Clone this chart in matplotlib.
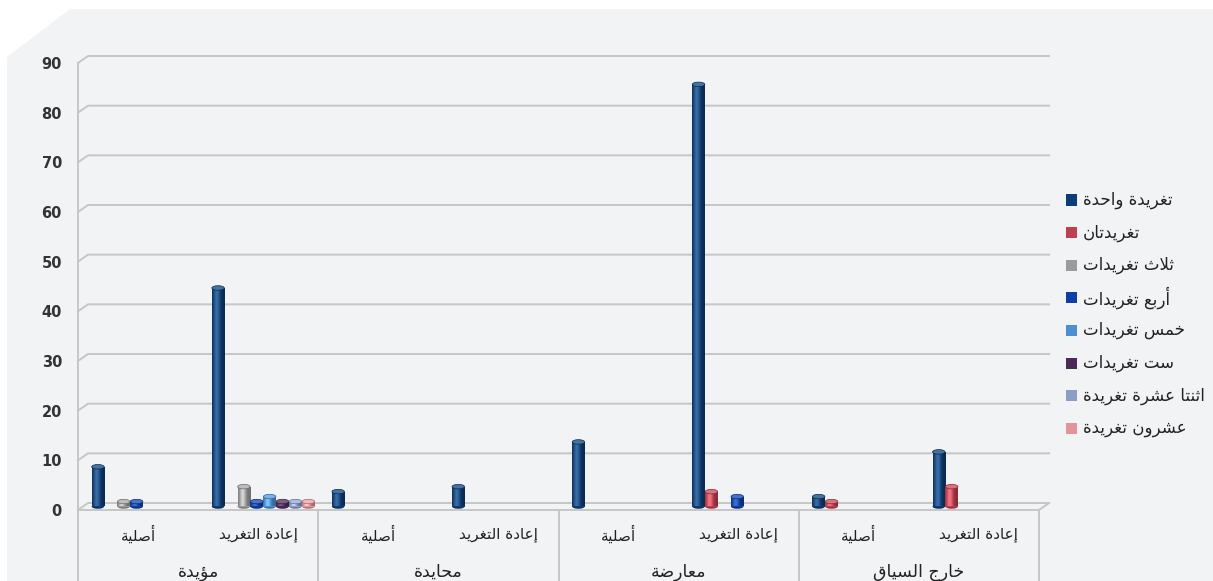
import numpy as np
import matplotlib
matplotlib.use("Agg")
import matplotlib.pyplot as plt
from matplotlib.patches import Ellipse, Rectangle, Polygon
from matplotlib.lines import Line2D
import matplotlib.transforms as mtransforms

plt.rcParams['font.family'] = ['DejaVu Sans']

# ---------------- data ----------------
groups = ["مؤيدة", "محايدة", "معارضة", "خارج السياق"]
subcategories = ["أصلية", "إعادة التغريد"]
series_names = ["تغريدة واحدة", "تغريدتان", "ثلاث تغريدات", "أربع تغريدات",
                "خمس تغريدات", "ست تغريدات", "اثنتا عشرة تغريدة", "عشرون تغريدة"]
series_colors = ["#0c3d74", "#bf3f4f", "#9b9b9b", "#0d3fa6",
                 "#4a8fd2", "#4b2a57", "#8c9dc6", "#e3949b"]
# order: مؤيدة(أصلية, إعادة), محايدة(...), معارضة(...), خارج السياق(...)
s_one    = [8, 44, 3, 4, 13, 85, 2, 11]
s_two    = [None, None, None, None, None, 3, 1, 4]
s_three  = [1, 4, None, None, None, None, None, None]
s_four   = [1, 1, None, None, None, 2, None, None]
s_five   = [None, 2, None, None, None, None, None, None]
s_six    = [None, 1, None, None, None, None, None, None]
s_twelve = [None, 1, None, None, None, None, None, None]
s_twenty = [None, 1, None, None, None, None, None, None]
series_values = [s_one, s_two, s_three, s_four, s_five, s_six, s_twelve, s_twenty]
y_ticks = list(range(0, 100, 10))

# ---------------- Arabic shaping (presentation forms) ----------------
BASE = {
    '\u0627': (0xFE8D, 2), '\u0623': (0xFE83, 2), '\u0625': (0xFE87, 2), '\u0622': (0xFE81, 2),
    '\u0624': (0xFE85, 2), '\u0628': (0xFE8F, 4), '\u0629': (0xFE93, 2), '\u062A': (0xFE95, 4),
    '\u062B': (0xFE99, 4), '\u062C': (0xFE9D, 4), '\u062D': (0xFEA1, 4), '\u062E': (0xFEA5, 4),
    '\u062F': (0xFEA9, 2), '\u0630': (0xFEAB, 2), '\u0631': (0xFEAD, 2), '\u0632': (0xFEAF, 2),
    '\u0633': (0xFEB1, 4), '\u0634': (0xFEB5, 4), '\u0635': (0xFEB9, 4), '\u0636': (0xFEBD, 4),
    '\u0637': (0xFEC1, 4), '\u0638': (0xFEC5, 4), '\u0639': (0xFEC9, 4), '\u063A': (0xFECD, 4),
    '\u0641': (0xFED1, 4), '\u0642': (0xFED5, 4), '\u0643': (0xFED9, 4), '\u0644': (0xFEDD, 4),
    '\u0645': (0xFEE1, 4), '\u0646': (0xFEE5, 4), '\u0647': (0xFEE9, 4), '\u0648': (0xFEED, 2),
    '\u0649': (0xFEEF, 2), '\u064A': (0xFEF1, 4),
}
LAM_ALEF = {'\u0627': 0xFEFB, '\u0623': 0xFEF7, '\u0625': 0xFEF9, '\u0622': 0xFEF5}


def shape(text):
    chars = list(text)
    units = []
    i = 0
    while i < len(chars):
        c = chars[i]
        if c == '\u0644' and i + 1 < len(chars) and chars[i + 1] in LAM_ALEF:
            units.append(('LA', LAM_ALEF[chars[i + 1]]))
            i += 2
        else:
            units.append(('C', c))
            i += 1

    def joins_next(u):
        return u[0] == 'C' and u[1] in BASE and BASE[u[1]][1] == 4

    def is_ar(u):
        return u[0] == 'LA' or u[1] in BASE

    out = []
    for k, u in enumerate(units):
        pj = k > 0 and joins_next(units[k - 1]) and is_ar(u)
        nj = k + 1 < len(units) and joins_next(u) and is_ar(units[k + 1])
        if u[0] == 'LA':
            out.append(chr(u[1] + (1 if pj else 0)))
        elif u[1] in BASE:
            b, n = BASE[u[1]]
            if pj and nj:
                f = 3
            elif pj:
                f = 1
            elif nj:
                f = 2
            else:
                f = 0
            out.append(chr(b + f))
        else:
            out.append(u[1])
    return ''.join(reversed(out))


# ---------------- figure ----------------
W, H = 1213, 581
fig = plt.figure(figsize=(W / 100, H / 100), dpi=100)
fig.patch.set_facecolor('white')


def fx(px):
    return px / W


def fy(py):
    return 1 - py / H


# background panel with cut corner
panel = Polygon([(fx(7), fy(57)), (fx(70), fy(9)), (fx(W), fy(9)), (fx(W), fy(H)), (fx(7), fy(H))],
                closed=True, transform=fig.transFigure, facecolor='#f2f3f5', edgecolor='none', zorder=-10)
fig.patches.append(panel)

ax_l, ax_r, ax_t, ax_b = 83, 1044, 59.5, 506.5
ax = fig.add_axes([fx(ax_l), fy(ax_b), (ax_r - ax_l) / W, (ax_b - ax_t) / H])
ax.set_zorder(1)
ax.set_facecolor('none')
n_cat = len(groups) * len(subcategories)
ax.set_xlim(0, n_cat)
ax.set_ylim(0, 90)
for s in ax.spines.values():
    s.set_visible(False)
ax.set_xticks([])

# px -> data scale
xs = n_cat / (ax_r - ax_l)
ys = 90 / (ax_b - ax_t)
dx, dy = 5 * xs, 3.5 * ys

grid_c = '#c6c6c6'
lw = 1.4
# back wall gridlines with side diagonals
for v in y_ticks:
    ax.add_line(Line2D([-dx, dx, n_cat + dx], [v - dy, v + dy, v + dy], color=grid_c, lw=lw,
                       clip_on=False, zorder=1))
# left wall vertical
ax.add_line(Line2D([-dx, -dx], [90 - dy, -dy], color=grid_c, lw=lw, clip_on=False, zorder=1))
# floor front edge
ax.add_line(Line2D([-dx, n_cat - dx, n_cat + dx], [-dy, -dy, dy], color=grid_c, lw=lw,
                   clip_on=False, zorder=1))
# group separators
for g in range(len(groups) + 1):
    x0 = g * len(subcategories) - dx
    ax.add_line(Line2D([x0, x0], [-dy, -18], color=grid_c, lw=lw, clip_on=False, zorder=1))

# y tick labels
ax.set_yticks(y_ticks)
ax.set_yticklabels([str(v) for v in y_ticks])
ax.tick_params(axis='y', length=0, pad=21 * 72 / 100, labelsize=10.5, labelcolor='#333333')
off = mtransforms.ScaledTranslation(0, -3.5 / 100, fig.dpi_scale_trans)
for lab in ax.get_yticklabels():
    lab.set_fontweight('bold')
    lab.set_transform(lab.get_transform() + off)

# category / group labels
for k in range(n_cat):
    ax.text(k + 0.5 - dx, -(535 - ax_b) * ys, shape(subcategories[k % 2]), ha='center', va='center',
            fontsize=11, color='#222222', clip_on=False)
for g, name in enumerate(groups):
    ax.text(g * 2 + 1 - dx, -(572 - ax_b) * ys, shape(name), ha='center', va='center',
            fontsize=12.5, color='#222222', clip_on=False)

# bars (cylinders)
slot = 12.9 * xs
bw = 12.5 * xs
cap_h = 4.5 * ys
t = np.linspace(0, 1, 24)
g_prof = np.exp(-((t - 0.36) / 0.26) ** 2)

for si, (vals, col) in enumerate(zip(series_values, series_colors)):
    base = np.array(matplotlib.colors.to_rgb(col))
    xpos = np.arange(n_cat) + 0.5 + (si - 3.5) * slot
    hv = np.array([np.nan if v is None else v for v in vals], dtype=float)
    bars = ax.bar(xpos, np.nan_to_num(hv), width=bw, color=col, zorder=3, linewidth=0)
    grad = np.clip(base[None, :] * (0.72 + 0.40 * g_prof[:, None]) + 0.16 * g_prof[:, None], 0, 1)
    grad = grad[None, :, :]
    cap_col = np.clip(base * 0.8 + 0.25, 0, 1)
    for x, v, b in zip(xpos, hv, bars):
        if np.isnan(v) or v <= 0:
            b.set_visible(False)
            continue
        im = ax.imshow(grad, extent=[x - bw / 2, x + bw / 2, 0, v], aspect='auto',
                       interpolation='bilinear', zorder=3.1)
        im.set_clip_path(b)
        ax.add_patch(Ellipse((x, 0), bw, cap_h, facecolor=base * 0.8, edgecolor='none',
                             zorder=2.9, clip_on=False))
        ax.add_patch(Ellipse((x, v), bw, cap_h, facecolor=cap_col, edgecolor=base * 0.7,
                             linewidth=0.5, zorder=3.2, clip_on=False))

ax.set_xlim(0, n_cat)
ax.set_ylim(0, 90)

# legend (manual)
ly0, lstep = 200, 32.6
for i, (name, col) in enumerate(zip(series_names, series_colors)):
    yc = ly0 + i * lstep
    fig.patches.append(Rectangle((fx(1066), fy(yc + 5.5)), 11 / W, 11 / H, transform=fig.transFigure,
                                 facecolor=col, edgecolor='none', zorder=2))
    fig.text(fx(1083), fy(yc), shape(name), ha='left', va='center', fontsize=12, color='#222222')

fig.savefig('out.png', dpi=100, facecolor=fig.get_facecolor())
